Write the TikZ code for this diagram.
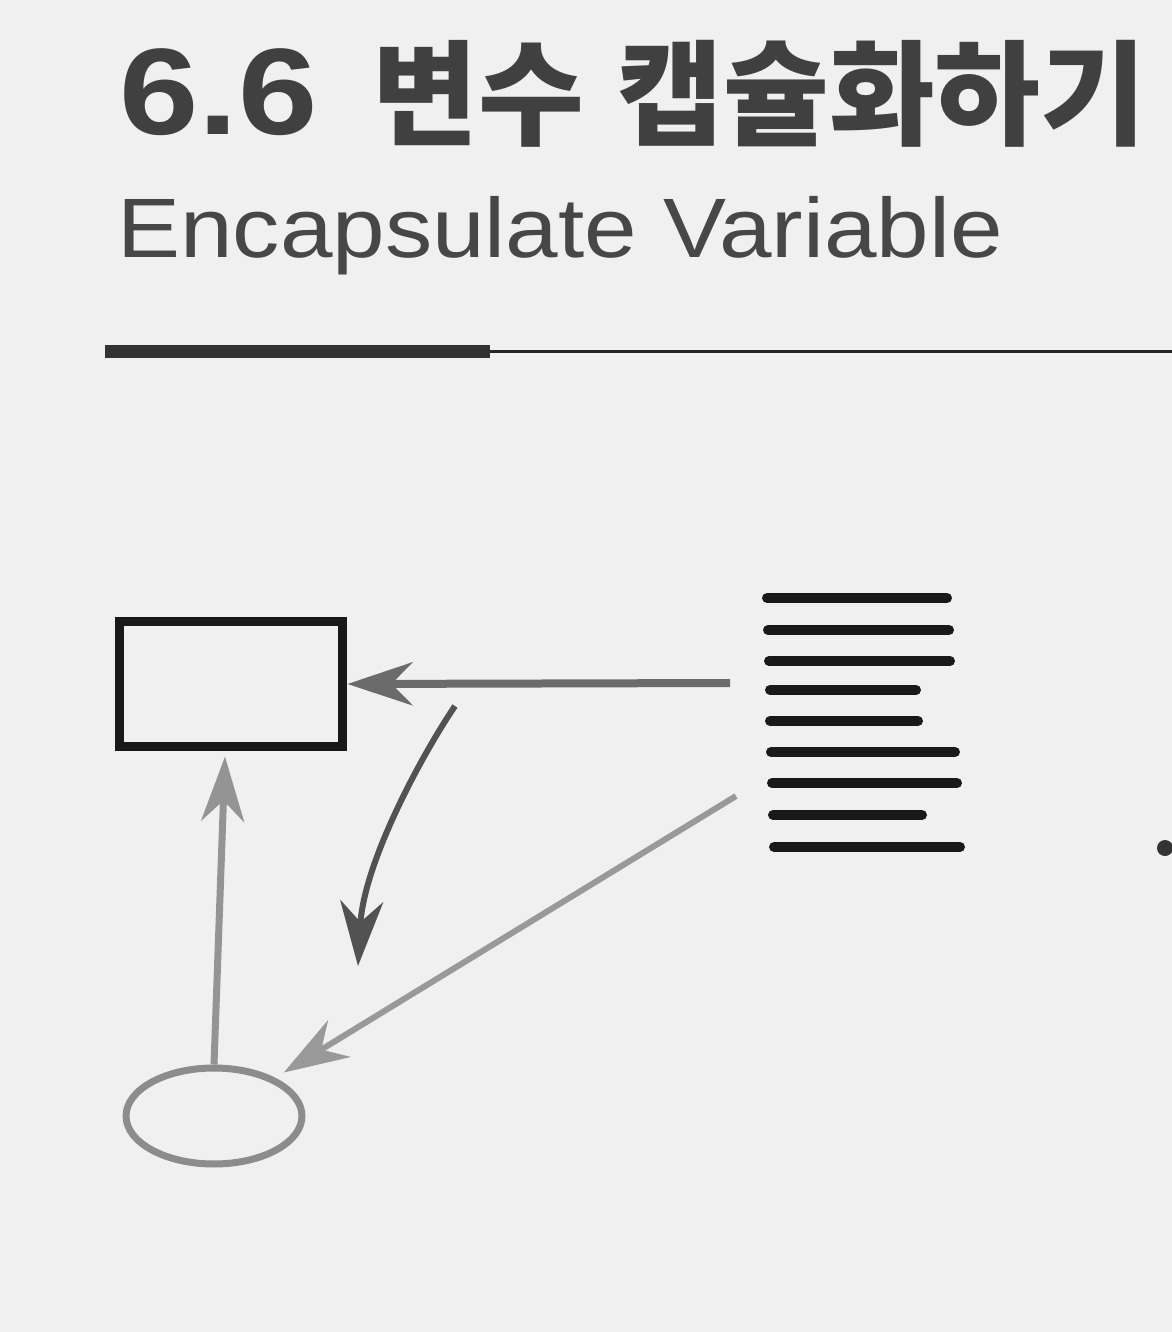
\documentclass[tikz,border=0pt]{standalone}
\usepackage{fontspec}
\setmainfont{Liberation Sans}
\newfontfamily\hangul{Noto Sans CJK KR}
\usepackage{tikz}
\usetikzlibrary{shapes.geometric,arrows.meta,positioning,calc}

\begin{document}
\begin{tikzpicture}[
    x=0.02cm, y=-0.02cm,
    headingnum/.style={anchor=base west, inner sep=0, text=black!75, font=\fontsize{70}{80}\selectfont\bfseries, xscale=1.16, transform shape},
    headingkor/.style={anchor=base west, inner sep=0, text=black!75, font=\hangul\fontsize{59}{66}\selectfont\bfseries, xscale=1.11, yscale=1.1, transform shape},
    subheadingtext/.style={anchor=base west, inner sep=0, text=black!72, font=\fontsize{48}{56}\selectfont, xscale=1.12, transform shape},
    modulebox/.style={rectangle, draw=black!90, line width=0.18cm, minimum width=4.48cm, minimum height=2.52cm, inner sep=0},
    fieldellipse/.style={ellipse, draw=black!45, line width=0.14cm, minimum width=3.52cm, minimum height=1.92cm, inner sep=0},
    codeline/.style={line width=0.2cm, line cap=round, black!90},
    barbtip/.style={-{Stealth[length=1.3cm, width=0.86cm, inset=0.42cm]}},
    accessarrow/.style={barbtip, line width=0.16cm, black!58},
    flowarrow/.style={barbtip, line width=0.12cm, black!68},
    updatearrow/.style={barbtip, line width=0.14cm, black!42},
    readarrow/.style={barbtip, line width=0.12cm, black!40}
]

\fill[black!6] (0,0) rectangle (1172,1332);
\useasboundingbox (0,0) rectangle (1172,1332);

\node[headingnum] (titlenum) at (119,134) {6.6};
\node[headingkor] (titlekor) at (372,136) {변수\hspace{0.6cm}캡슐화하기};
\node[subheadingtext] (subtitle) at (117,257) {Encapsulate Variable};

\draw[line width=0.26cm, black!80] (105,351) -- (490,351);
\draw[line width=0.06cm, black!85] (490,351) -- (1172,351);

\node[modulebox] (object) at (231,684) {};
\node[fieldellipse] (field) at (214,1116) {};

\foreach \y/\a/\b in {598/767/947, 630/768/949, 661/769/950, 690/770/916, 721/770/918,
                      752/771/955, 783/772/957, 815/773/922, 847/774/960}
    \draw[codeline] (\a,\y) -- (\b,\y);

\coordinate (callA) at (730,683);
\coordinate (callB) at (736,796);
\coordinate (curveA) at (455,706);
\coordinate (curveB) at (358,966);

\draw[accessarrow] (callA) -- (object.east);
\draw[flowarrow] (curveA) .. controls (425,750) and (364,860) .. (curveB);
\draw[updatearrow] (field.north) -- ([xshift=-0.12cm, yshift=-0.1cm]object.south);
\draw[readarrow, shorten >=0.2cm] (callB) -- (field.32);

\fill[black!80] (1165,848) circle (0.16cm);

\end{tikzpicture}
\end{document}
